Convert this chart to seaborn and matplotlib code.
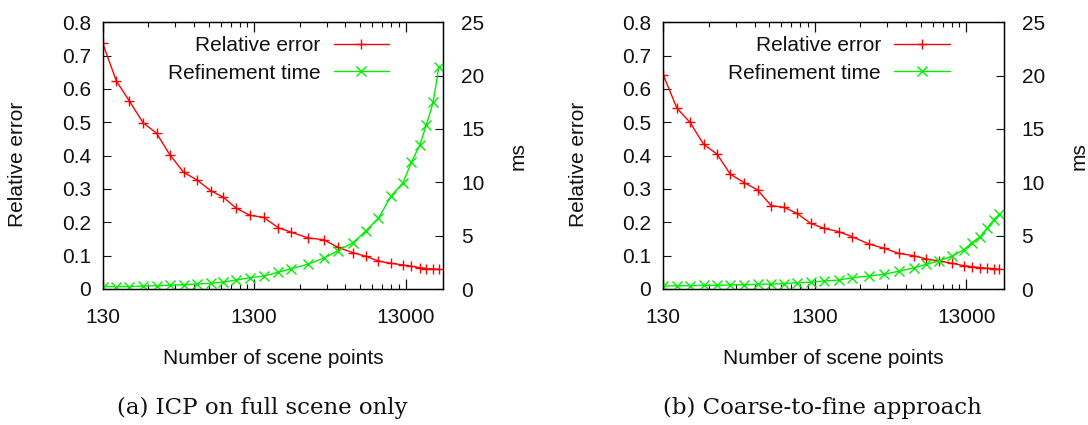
import numpy as np
import matplotlib
matplotlib.use("Agg")
import matplotlib.pyplot as plt
from matplotlib.ticker import FixedLocator, FixedFormatter, NullFormatter
import seaborn as sns

# Number of scene points (shared by both experiments)
scene_points = [130, 160, 195, 240, 295, 360, 445, 545, 670, 815, 990, 1220,
                1500, 1870, 2290, 2960, 3730, 4640, 5830, 7080, 8580, 10450,
                12480, 14170, 16090, 17800, 19710, 21490]

# (a) ICP on full scene only
icp_rel_error = [0.737, 0.624, 0.564, 0.499, 0.467, 0.403, 0.350, 0.327, 0.295,
                 0.275, 0.242, 0.221, 0.215, 0.184, 0.170, 0.153, 0.148, 0.125,
                 0.109, 0.098, 0.084, 0.077, 0.072, 0.068, 0.064, 0.061, 0.060,
                 0.059]
icp_time_ms = [0.22, 0.22, 0.22, 0.28, 0.31, 0.34, 0.41, 0.47, 0.53, 0.66, 0.84,
               1.06, 1.22, 1.56, 1.91, 2.34, 2.88, 3.59, 4.34, 5.44, 6.63, 8.75,
               9.97, 11.88, 13.5, 15.4, 17.5, 20.8]

# (b) Coarse-to-fine approach
c2f_rel_error = [0.642, 0.542, 0.500, 0.434, 0.404, 0.344, 0.319, 0.297, 0.250,
                 0.245, 0.227, 0.197, 0.182, 0.172, 0.157, 0.135, 0.122, 0.107,
                 0.100, 0.090, 0.084, 0.077, 0.070, 0.067, 0.064, 0.062, 0.061,
                 0.059]
c2f_time_ms = [0.28, 0.31, 0.31, 0.34, 0.34, 0.38, 0.41, 0.44, 0.47, 0.50, 0.59,
               0.63, 0.75, 0.84, 1.06, 1.22, 1.38, 1.66, 1.97, 2.31, 2.63, 3.09,
               3.66, 4.34, 4.91, 5.69, 6.47, 7.0]

x_ticks = [130, 1300, 13000]
x_tick_labels = ["130", "1300", "13000"]
err_ticks = [0, 0.1, 0.2, 0.3, 0.4, 0.5, 0.6, 0.7, 0.8]
err_tick_labels = ["0", "0.1", "0.2", "0.3", "0.4", "0.5", "0.6", "0.7", "0.8"]
ms_ticks = [0, 5, 10, 15, 20, 25]
ms_tick_labels = ["0", "5", "10", "15", "20", "25"]

captions = ["(a) ICP on full scene only", "(b) Coarse-to-fine approach"]

sns.set_style("white")
plt.rcParams["font.family"] = ["Liberation Sans", "DejaVu Sans"]
plt.rcParams["text.color"] = "#111111"
plt.rcParams["xtick.color"] = "#111111"
plt.rcParams["ytick.color"] = "#111111"

W, H = 1088, 425
FS = 15
RED = "#ff0000"
GREEN = "#00ee00"

fig = plt.figure(figsize=(W / 100, H / 100), dpi=100)


def px(x, y):
    return x / W, 1 - y / H


def panel(x0, err, ms, caption):
    left, right, top, bottom = x0, x0 + 340.6, 22.3, 289.0
    ax = fig.add_axes([left / W, 1 - bottom / H, (right - left) / W, (bottom - top) / H])
    ax2 = ax.twinx()

    sns.lineplot(x=scene_points, y=err, ax=ax, color=RED, lw=1.0, marker="+",
                 markersize=7.5, markeredgewidth=1.0, markeredgecolor=RED,
                 label="Relative error", legend=False)
    sns.lineplot(x=scene_points, y=ms, ax=ax2, color=GREEN, lw=1.0, marker="x",
                 markersize=6.5, markeredgewidth=1.0, markeredgecolor=GREEN,
                 label="Refinement time", legend=False)

    ax.set_xscale("log")
    ax.set_xlim(130, 23000)
    ax.set_ylim(0, 0.8)
    ax2.set_ylim(0, 25)

    minors = [k * 130 for k in range(2, 10)] + [k * 1300 for k in range(2, 10)]
    ax.xaxis.set_major_locator(FixedLocator(x_ticks))
    ax.xaxis.set_major_formatter(FixedFormatter(x_tick_labels))
    ax.xaxis.set_minor_locator(FixedLocator(minors))
    ax.xaxis.set_minor_formatter(NullFormatter())
    ax.yaxis.set_major_locator(FixedLocator(err_ticks))
    ax.yaxis.set_major_formatter(FixedFormatter(err_tick_labels))
    ax2.yaxis.set_major_locator(FixedLocator(ms_ticks))
    ax2.yaxis.set_major_formatter(FixedFormatter(ms_tick_labels))

    ax.tick_params(axis="x", which="major", direction="in", top=True, bottom=True,
                   length=7.2, width=0.9, labelsize=FS, pad=13.5)
    ax.tick_params(axis="x", which="minor", direction="in", top=True, bottom=True,
                   length=3.6, width=0.8)
    ax.tick_params(axis="y", direction="in", left=True, right=False,
                   length=6, width=0.8, labelsize=FS, pad=8.6)
    ax2.tick_params(axis="y", direction="in", right=True, left=False,
                    length=6, width=0.8, labelsize=FS, pad=12.7)
    for a in (ax, ax2):
        a.set_xlabel("")
        a.set_ylabel("")
        for s in a.spines.values():
            s.set_color("black")
            s.set_linewidth(0.9)

    h1 = ax.lines[0]
    h2 = ax2.lines[0]
    ax2.legend([h1, h2], ["Relative error", "Refinement time"], loc="upper right",
               bbox_to_anchor=(0.8406, 0.948), frameon=False, markerfirst=False,
               handlelength=2.65, handletextpad=0.65, labelspacing=0.4,
               borderpad=0, borderaxespad=0, fontsize=FS)

    fig.text(*px(x0 - 84.7, 164), "Relative error", rotation=90, ha="center",
             va="center", fontsize=FS)
    fig.text(*px(x0 + 415.3, 156), "ms", rotation=90, ha="center", va="center",
             fontsize=FS)
    fig.text(*px(x0 + 170.3, 358), "Number of scene points", ha="center",
             va="center", fontsize=FS)
    fig.text(*px(x0 + 159.3, 408), caption, ha="center", va="center",
             fontsize=16.5, family="DejaVu Serif")


panel(102.7, icp_rel_error, icp_time_ms, captions[0])
panel(663.3, c2f_rel_error, c2f_time_ms, captions[1])

fig.savefig("out.png", dpi=100)
